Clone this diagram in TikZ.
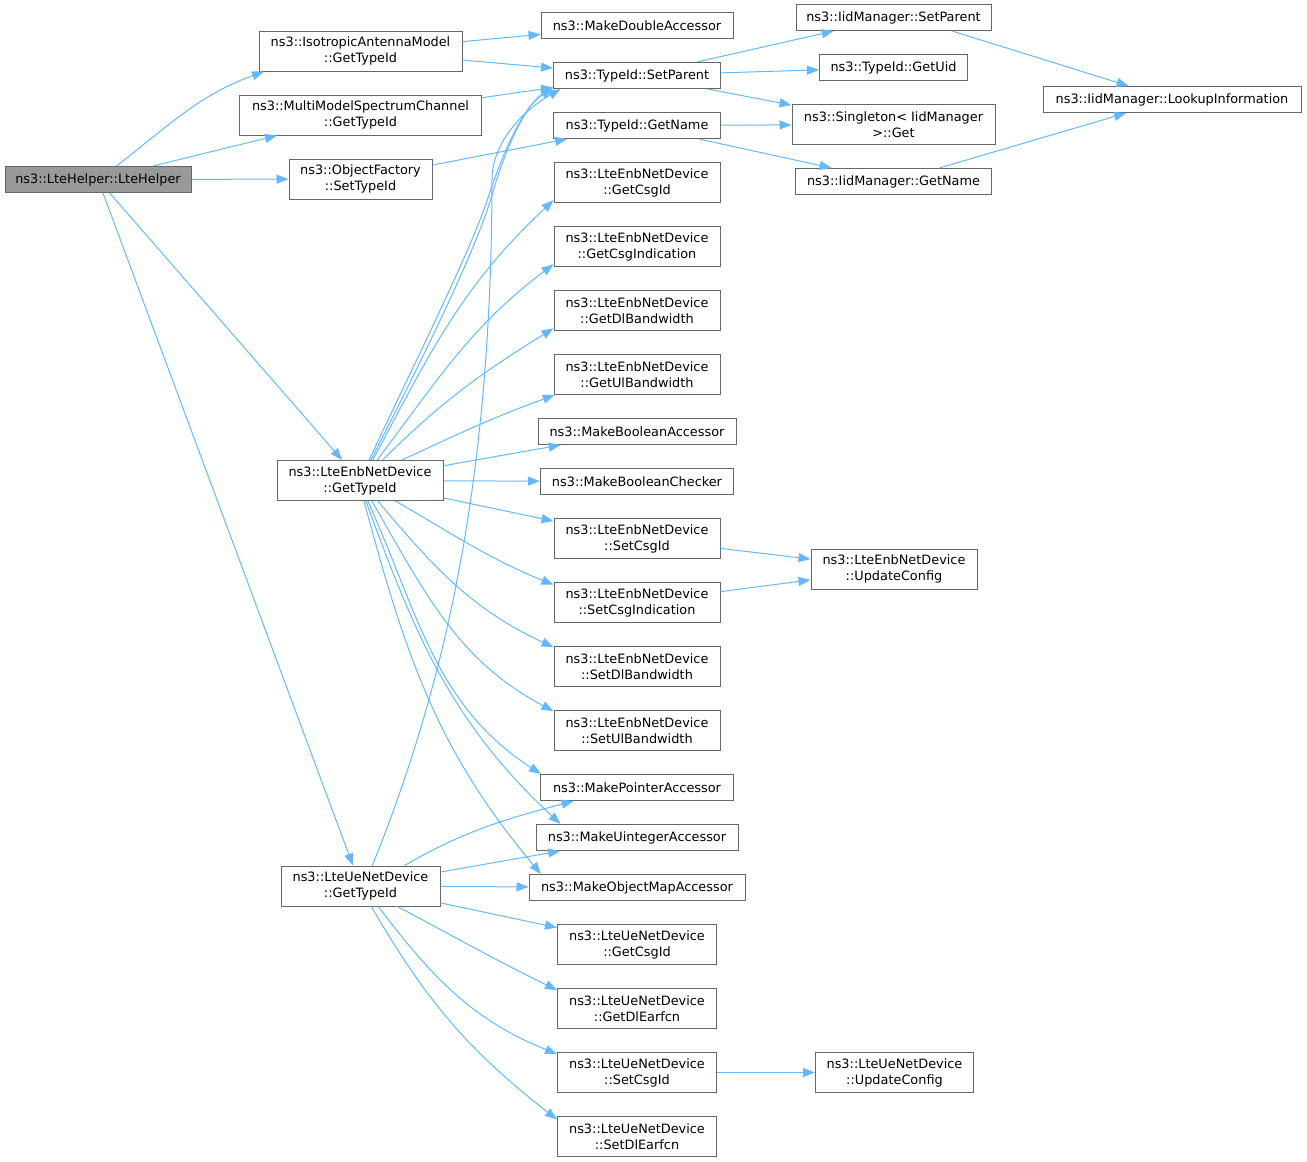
\documentclass[tikz,border=0pt]{standalone}
\usepackage{fontspec}
\setmainfont{DejaVu Sans}
\usepackage{tikz}
\usetikzlibrary{arrows.meta, positioning}
\definecolor{edgeblue}{HTML}{63B8FF}
\definecolor{boxgray}{HTML}{666666}
\definecolor{mainfill}{HTML}{999999}

\begin{document}
\begin{tikzpicture}[
    x=0.75pt, y=0.75pt,
    node distance=17.25pt,
    font=\fontsize{9.65}{12}\selectfont,
    fn/.style={draw=boxgray, fill=white, line width=0.75pt, minimum width=#1*0.75pt, minimum height=19.5pt, inner sep=0pt, align=center},
    fn/.default=166,
    two/.style={minimum height=30pt},
    call/.style={->, >={Triangle[length=9pt,width=6.75pt]}, draw=edgeblue, line width=0.75pt}
]
    \useasboundingbox (0,0) rectangle (1307,-1161);

    % Caller
    \node[fn=186, fill=mainfill] (lteHelper) at (98,-179.5) {ns3::LteHelper::LteHelper};

    % First level
    \node[fn=203, two] (isoType) at (360.5,-51) {ns3::IsotropicAntennaModel\\::GetTypeId};
    \node[fn=242, two, below=of isoType] (mmscType) {ns3::MultiModelSpectrumChannel\\::GetTypeId};
    \node[fn=143, two, below=of mmscType] (ofSetType) {ns3::ObjectFactory\\::SetTypeId};
    \node[fn=166, two] (enbType) at (360,-480.5) {ns3::LteEnbNetDevice\\::GetTypeId};
    \node[fn=159, two] (ueType) at (360.5,-886) {ns3::LteUeNetDevice\\::GetTypeId};

    % Second level
    \node[fn=192] (makeDouble) at (637,-25.5) {ns3::MakeDoubleAccessor};
    \node[fn=167, below=of makeDouble] (setParent) {ns3::TypeId::SetParent};
    \node[fn=167, below=of setParent] (getName) {ns3::TypeId::GetName};
    \node[fn, two, below=of getName] (enbGetCsgId) {ns3::LteEnbNetDevice\\::GetCsgId};
    \node[fn, two, below=of enbGetCsgId] (enbGetCsgInd) {ns3::LteEnbNetDevice\\::GetCsgIndication};
    \node[fn, two, below=of enbGetCsgInd] (enbGetDlBw) {ns3::LteEnbNetDevice\\::GetDlBandwidth};
    \node[fn, two, below=of enbGetDlBw] (enbGetUlBw) {ns3::LteEnbNetDevice\\::GetUlBandwidth};
    \node[fn=198, below=of enbGetUlBw] (makeBoolAcc) {ns3::MakeBooleanAccessor};
    \node[fn=193, below=of makeBoolAcc] (makeBoolChk) {ns3::MakeBooleanChecker};
    \node[fn, two, below=of makeBoolChk] (enbSetCsgId) {ns3::LteEnbNetDevice\\::SetCsgId};
    \node[fn, two, below=of enbSetCsgId] (enbSetCsgInd) {ns3::LteEnbNetDevice\\::SetCsgIndication};
    \node[fn, two, below=of enbSetCsgInd] (enbSetDlBw) {ns3::LteEnbNetDevice\\::SetDlBandwidth};
    \node[fn, two, below=of enbSetDlBw] (enbSetUlBw) {ns3::LteEnbNetDevice\\::SetUlBandwidth};
    \node[fn=193, below=of enbSetUlBw] (makePtrAcc) {ns3::MakePointerAccessor};
    \node[fn=202, below=of makePtrAcc] (makeUintAcc) {ns3::MakeUintegerAccessor};
    \node[fn=216, below=of makeUintAcc] (makeObjMap) {ns3::MakeObjectMapAccessor};
    \node[fn=159, two, below=of makeObjMap] (ueGetCsgId) {ns3::LteUeNetDevice\\::GetCsgId};
    \node[fn=159, two, below=of ueGetCsgId] (ueGetDlEarfcn) {ns3::LteUeNetDevice\\::GetDlEarfcn};
    \node[fn=159, two, below=of ueGetDlEarfcn] (ueSetCsgId) {ns3::LteUeNetDevice\\::SetCsgId};
    \node[fn=159, two, below=of ueSetCsgId] (ueSetDlEarfcn) {ns3::LteUeNetDevice\\::SetDlEarfcn};

    % Third level
    \node[fn=195] (iidSetParent) at (893.5,-17.5) {ns3::IidManager::SetParent};
    \node[fn=148, below=of iidSetParent] (getUid) {ns3::TypeId::GetUid};
    \node[fn=203, two, below=of getUid] (singletonGet) {ns3::Singleton< IidManager\\>::Get};
    \node[fn=196, below=of singletonGet] (iidGetName) {ns3::IidManager::GetName};
    \node[fn, two] (enbUpdate) at (894,-569) {ns3::LteEnbNetDevice\\::UpdateConfig};
    \node[fn=158, two, right=73.5pt of ueSetCsgId] (ueUpdate) {ns3::LteUeNetDevice\\::UpdateConfig};
    \node[fn=258] (lookupInfo) at (1172,-99.5) {ns3::IidManager::LookupInformation};

    % Calls from LteHelper
    \draw[call] (lteHelper.36) to[out=38, in=200] (isoType.192);
    \draw[call] (lteHelper) -- (mmscType);
    \draw[call] (lteHelper) -- (ofSetType);
    \draw[call] (lteHelper) -- (enbType);
    \draw[call] (lteHelper) -- (ueType);

    % Calls from the other GetTypeId
    \draw[call] (isoType) -- (makeDouble);
    \draw[call] (isoType) -- (setParent);
    \draw[call] (mmscType) -- (setParent);
    \draw[call] (ofSetType) -- (getName);

    % TypeId and IidManager
    \draw[call] (setParent) -- (iidSetParent);
    \draw[call] (setParent) -- (getUid);
    \draw[call] (setParent) -- (singletonGet);
    \draw[call] (getName) -- (singletonGet);
    \draw[call] (getName) -- (iidGetName);
    \draw[call] (iidSetParent.-13) -- (lookupInfo);
    \draw[call] (iidGetName) -- (lookupInfo);

    % Calls from LteEnbNetDevice::GetTypeId
    \draw[call] (enbType.66) .. controls +(65:100) and +(-108:60) .. (489,-195) .. controls +(72:40) and +(210:35) .. (setParent.189);
    \draw[call] (enbType.62) .. controls +(63:100) and +(-106:60) .. (492,-195) .. controls +(74:40) and +(212:35) .. (setParent.188);
    \draw[call] (enbType.58) to[out=62, in=223] (enbGetCsgId.192);
    \draw[call] (enbType.50) to[out=53, in=217] (enbGetCsgInd.192);
    \draw[call] (enbType.42) to[out=45, in=212] (enbGetDlBw.192);
    \draw[call] (enbType.26) to[out=25, in=200] (enbGetUlBw.194);
    \draw[call] (enbType) -- (makeBoolAcc);
    \draw[call] (enbType) -- (makeBoolChk);
    \draw[call] (enbType) -- (enbSetCsgId);
    \draw[call] (enbType.-30) to[out=-30, in=158] (enbSetCsgInd.168);
    \draw[call] (enbType.-49) to[out=-50, in=155] (enbSetDlBw.167);
    \draw[call] (enbType.-60) to[out=-60, in=152] (enbSetUlBw.167);
    \draw[call] (enbType.-69) to[out=-66, in=147] (makePtrAcc.172);
    \draw[call] (enbType.-74) to[out=-70, in=137] (makeUintAcc.170);
    \draw[call] (enbType.-79) to[out=-75, in=130] (makeObjMap.172);
    \draw[call] (enbSetCsgId) -- (enbUpdate);
    \draw[call] (enbSetCsgInd) -- (enbUpdate);

    % Calls from LteUeNetDevice::GetTypeId
    \draw[call] (ueType.60) .. controls +(68:200) and +(-90:300) .. (492,-175) .. controls +(85:40) and +(210:35) .. (setParent.190);
    \draw[call] (ueType.25) to[out=30, in=195] (makePtrAcc.192);
    \draw[call] (ueType) -- (makeUintAcc);
    \draw[call] (ueType) -- (makeObjMap);
    \draw[call] (ueType) -- (ueGetCsgId);
    \draw[call] (ueType.-29) to[out=-28, in=154] (ueGetDlEarfcn.167);
    \draw[call] (ueType.-49) to[out=-53, in=158] (ueSetCsgId.167);
    \draw[call] (ueType.-62) to[out=-60, in=142] (ueSetDlEarfcn.168);
    \draw[call] (ueSetCsgId) -- (ueUpdate);
\end{tikzpicture}
\end{document}
